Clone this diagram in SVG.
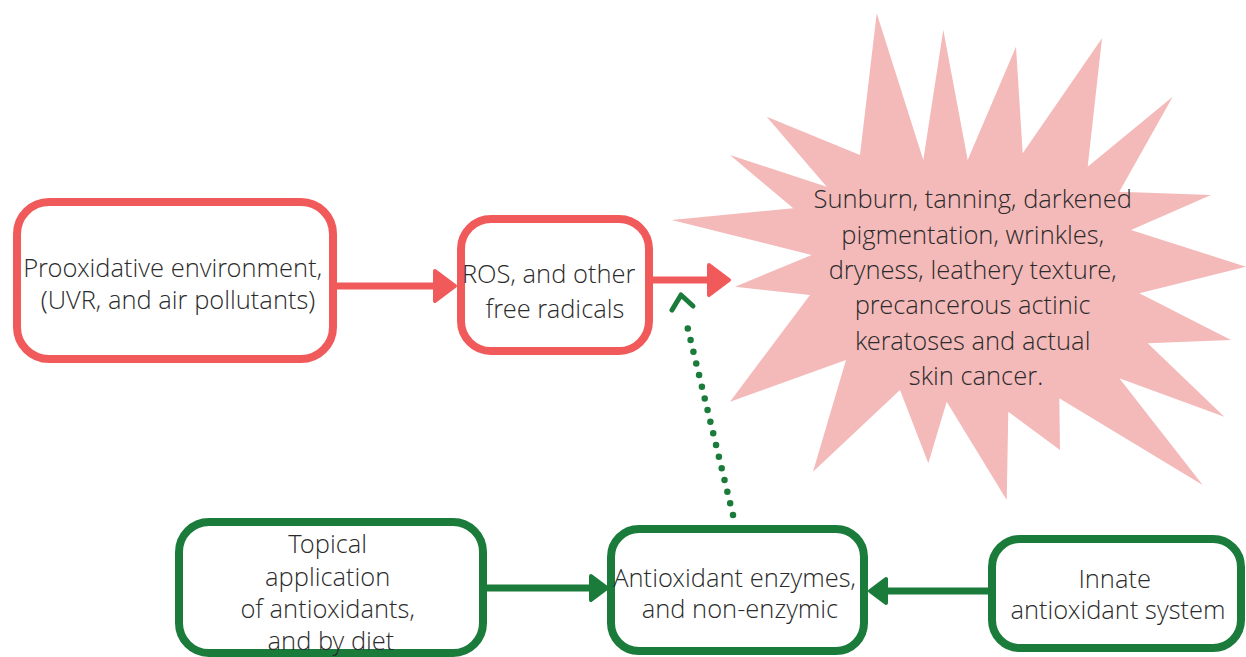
<svg xmlns="http://www.w3.org/2000/svg" width="1246" height="657" viewBox="0 0 1246 657">
  <defs>
    <style>
      .txt { font-family: "Open Sans Light", "Open Sans", "Liberation Sans", sans-serif; font-weight: 300; font-size: 25.5px; fill: #2b2b2b; text-anchor: middle; }
      .redbox { fill: #ffffff; stroke: #f15a5a; stroke-width: 8; }
      .greenbox { fill: #ffffff; stroke: #1a7b3b; stroke-width: 8; }
      .redline { stroke: #f15a5a; stroke-width: 7; fill: none; }
      .greenline { stroke: #1a7b3b; stroke-width: 7; fill: none; }
      .dotted { stroke: #1a7b3b; stroke-width: 6.5; fill: none; stroke-dasharray: 0 12; stroke-linecap: round; }
      .chevron { stroke: #1a7b3b; stroke-width: 5; fill: none; stroke-linecap: round; stroke-linejoin: round; }
      .star { fill: #f4b9b9; }
    </style>
    <marker id="redHead" viewBox="0 0 26 36" refX="3" refY="18" markerWidth="26" markerHeight="36" markerUnits="userSpaceOnUse" orient="auto">
      <path d="M3,3 L23,18 L3,33 Z" fill="#f15a5a" stroke="#f15a5a" stroke-width="4" stroke-linejoin="round"/>
    </marker>
    <marker id="greenHead" viewBox="0 0 22 30" refX="3" refY="15" markerWidth="22" markerHeight="30" markerUnits="userSpaceOnUse" orient="auto">
      <path d="M3,3 L19,15 L3,27 Z" fill="#1a7b3b" stroke="#1a7b3b" stroke-width="4" stroke-linejoin="round"/>
    </marker>
  </defs>
  <rect width="1246" height="657" fill="#ffffff"/>

  <g id="effects">
    <polygon class="star" points="876.7,13.3 923.3,160 943.3,30 967.7,160 1016,46.7 1022.7,153.3 1102,38.3 1087.7,166.7 1172.7,96.7 1119.3,191.7 1211,195 1131,230 1246,266.7 1139.3,293.3 1231,340 1147.7,343.3 1224.3,416.7 1119.3,378.3 1202.7,485 1059.3,398.3 1060,450 1008.3,411.7 1006.7,500 946.7,401.7 928.3,463.3 900,390 813,471.7 846,360 730,401.7 810,295 735,286.7 811.7,255 671.7,220 793.3,208.3 730,155 826.7,186.7 766.7,116.7 860,155"/>
    <text class="txt">
      <tspan x="976" y="208">Sunburn, tanning, darkened</tspan>
      <tspan x="976" y="243.5">pigmentation, wrinkles,</tspan>
      <tspan x="976" y="279">dryness, leathery texture,</tspan>
      <tspan x="976" y="314">precancerous actinic</tspan>
      <tspan x="976" y="349.5">keratoses and actual</tspan>
      <tspan x="976" y="385">skin cancer.</tspan>
    </text>
  </g>

  <g id="prooxidative">
    <rect class="redbox" x="17" y="202" width="316" height="157" rx="32"/>
    <text class="txt">
      <tspan x="176" y="277">Prooxidative environment,</tspan>
      <tspan x="178" y="309">(UVR, and air pollutants)</tspan>
    </text>
  </g>

  <g id="ros">
    <rect class="redbox" x="461" y="219" width="188" height="132" rx="30"/>
    <text class="txt">
      <tspan x="552" y="283">ROS, and other</tspan>
      <tspan x="555" y="318">free radicals</tspan>
    </text>
  </g>

  <g id="topical">
    <rect class="greenbox" x="179" y="522" width="304" height="131" rx="30"/>
    <text class="txt">
      <tspan x="331" y="553">Topical</tspan>
      <tspan x="331" y="586">application</tspan>
      <tspan x="331" y="618">of antioxidants,</tspan>
      <tspan x="331" y="650">and by diet</tspan>
    </text>
  </g>

  <g id="antioxidant">
    <rect class="greenbox" x="611" y="529" width="253" height="122" rx="28"/>
    <text class="txt">
      <tspan x="738" y="587">Antioxidant enzymes,</tspan>
      <tspan x="740" y="618">and non-enzymic</tspan>
    </text>
  </g>

  <g id="innate">
    <rect class="greenbox" x="992" y="539" width="249" height="109" rx="28"/>
    <text class="txt">
      <tspan x="1118" y="588">Innate</tspan>
      <tspan x="1118" y="619">antioxidant system</tspan>
    </text>
  </g>

  <g id="connectors">
    <line class="redline" x1="337" y1="286" x2="435" y2="286" marker-end="url(#redHead)"/>
    <line class="redline" x1="653" y1="280" x2="709" y2="280" marker-end="url(#redHead)"/>
    <line class="greenline" x1="487" y1="588" x2="591" y2="588" marker-end="url(#greenHead)"/>
    <line class="greenline" x1="988" y1="591" x2="886" y2="591" marker-end="url(#greenHead)"/>
    <path class="dotted" d="M733,515 L685,317"/>
    <path class="chevron" d="M672,310 L681,295 L693,306"/>
  </g>
</svg>
